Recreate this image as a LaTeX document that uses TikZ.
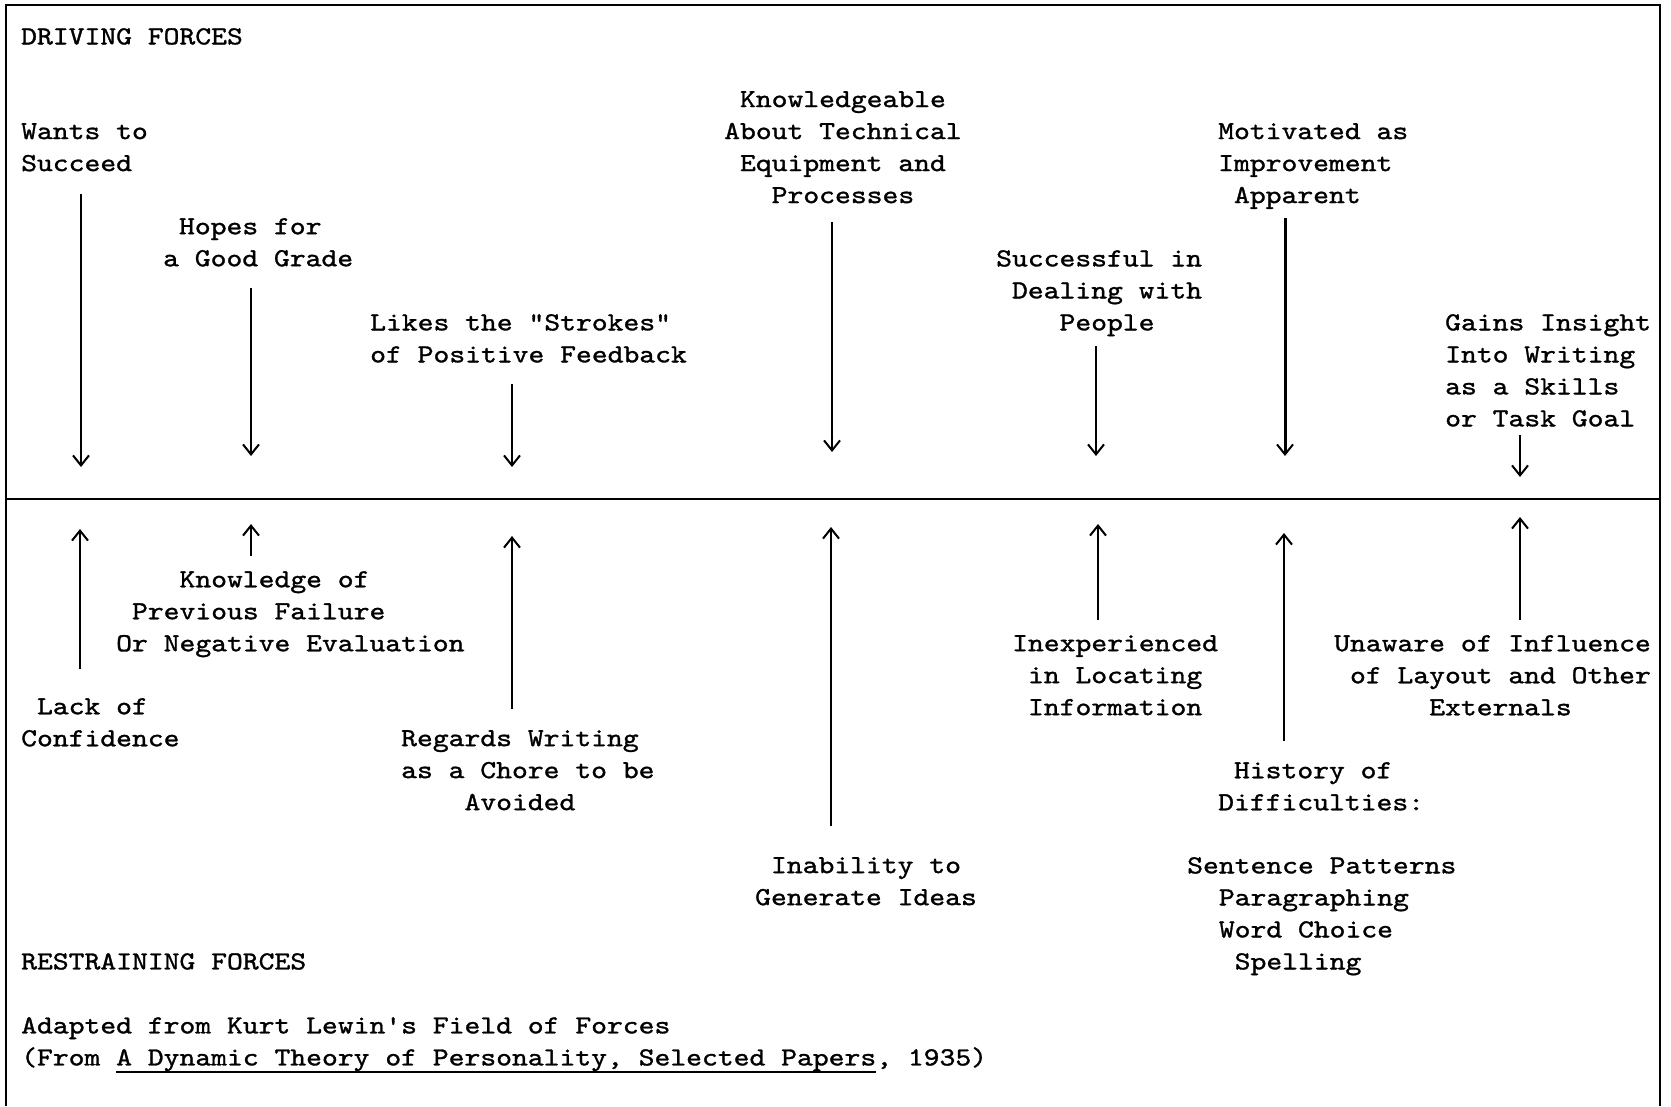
\documentclass[tikz,border=0pt]{standalone}
\usepackage{fontspec}
\newfontfamily\tw{lmmono10-regular.otf}[FakeStretch=1.16,FakeBold=1.2]
\usetikzlibrary{arrows.meta}
\newcommand\thul[1]{\setbox0=\hbox{#1}\rlap{\rule[-8pt]{\wd0}{2.5pt}}\box0}
\newcommand\ind[1]{\hspace*{#1\fontcharwd\font`0}}
\begin{document}
\begin{tikzpicture}[x=1pt,y=-1pt,
  lbl/.style={inner sep=0pt,font=\tw\fontsize{26}{32}\selectfont},
  ll/.style={lbl,anchor=north west,align=left},
  force/.style={line width=2.2pt,-{Straight Barb[length=10pt,width=16pt,line width=2pt]}},
  frame/.style={line width=2.8pt}]
\useasboundingbox (0,0) rectangle (1671,1106);
% frame
\coordinate (tl) at (6,5);
\coordinate (tr) at (1660,5);
\coordinate (bl) at (6,1106);
\coordinate (br) at (1660,1106);
\coordinate (ml) at (6,499);
\coordinate (mr) at (1660,499);
\draw[frame] (bl) -- (tl) -- (tr) -- (br);
\draw[frame] (ml) -- (mr);
% headings
\node[ll] (df) at (21,28) {DRIVING FORCES};
\node[ll] (rf) at (21,953) {RESTRAINING FORCES};
\node[ll] (src) at (21,1017) {Adapted from Kurt Lewin's Field of Forces\\(From \thul{A Dynamic Theory of Personality, Selected Papers}, 1935)};
% driving forces
\node[ll] (d1) at (21,123) {Wants to\\Succeed};
\node[ll] (d2) at (163,218) {\ind1Hopes for\\a Good Grade};
\node[ll] (d3) at (370,314) {Likes the "Strokes"\\of Positive Feedback};
\node[ll] (d4) at (724,91) {\ind1Knowledgeable\\About Technical\\\ind1Equipment and\\\ind3Processes};
\node[ll] (d5) at (996,250) {Successful in\\\ind1Dealing with\\\ind4People};
\node[ll] (d6) at (1218,123) {Motivated as\\Improvement\\\ind1Apparent};
\node[ll] (d7) at (1445,314) {Gains Insight\\Into Writing\\as a Skills\\or Task Goal};
% restraining forces
\node[ll] (r1) at (21,698) {\ind1Lack of\\Confidence};
\node[ll] (r2) at (116,571) {\ind4Knowledge of\\\ind1Previous Failure\\Or Negative Evaluation};
\node[ll] (r3) at (401,730) {Regards Writing\\as a Chore to be\\\ind4Avoided};
\node[ll] (r4) at (755,857) {\ind1Inability to\\Generate Ideas};
\node[ll] (r5) at (1012,635) {Inexperienced\\\ind1in Locating\\\ind1Information};
\node[ll] (r6) at (1218,762) {\ind1History of\\Difficulties:};
\node[ll] (r6b) at (1187,857) {Sentence Patterns\\\ind2Paragraphing\\\ind2Word Choice\\\ind3Spelling};
\node[ll] (r7) at (1334,635) {Unaware of Influence\\\ind1of Layout and Other\\\ind6Externals};
% arrow ends
\coordinate (d1s) at (81,194);   \coordinate (d1e) at (81,467);
\coordinate (d2s) at (251,288);  \coordinate (d2e) at (251,456);
\coordinate (d3s) at (512,384);  \coordinate (d3e) at (512,467);
\coordinate (d4s) at (832,222);  \coordinate (d4e) at (832,452);
\coordinate (d5s) at (1096,346); \coordinate (d5e) at (1096,456);
\coordinate (d6s) at (1285,218); \coordinate (d6e) at (1285,456);
\coordinate (d7s) at (1520,435); \coordinate (d7e) at (1520,477);
\coordinate (r1s) at (80,669);   \coordinate (r1e) at (80,529);
\coordinate (r2s) at (251,556);  \coordinate (r2e) at (251,524);
\coordinate (r3s) at (512,709);  \coordinate (r3e) at (512,536);
\coordinate (r4s) at (831,826);  \coordinate (r4e) at (831,527);
\coordinate (r5s) at (1098,620); \coordinate (r5e) at (1098,524);
\coordinate (r6s) at (1284,741); \coordinate (r6e) at (1284,533);
\coordinate (r7s) at (1520,620); \coordinate (r7e) at (1520,517);
\foreach \a in {d1,d2,d3,d4,d5,d7,r1,r2,r3,r4,r5,r6,r7}{
  \draw[force] (\a s) -- (\a e);
}
\draw[force,line width=3pt] (d6s) -- (d6e);
\end{tikzpicture}
\end{document}
